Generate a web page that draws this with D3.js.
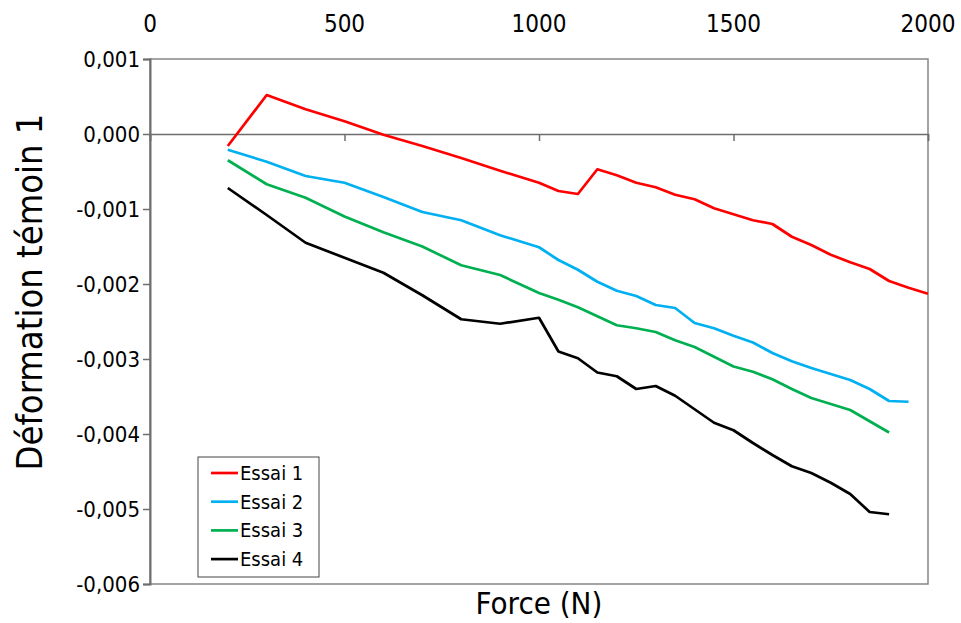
<!DOCTYPE html>
<html><head><meta charset="utf-8">
<script src="https://cdn.jsdelivr.net/npm/d3@7"></script>
<style>
body{margin:0;background:#fff;}
svg text{font-family:"DejaVu Sans Condensed","DejaVu Sans",sans-serif;fill:#000;}
</style></head><body>
<svg id="c" width="961" height="623"></svg>
<script>
const forces = [200,300,400,500,600,700,800,900,1000,1050,1100,1150,1200,1250,1300,1350,1400,1450,1500,1550,1600,1650,1700,1750,1800,1850,1900,1950,2000];
const essai1 = [-0.00016,0.00052,0.00033,0.00017,-0.00001,-0.00016,-0.00032,-0.00049,-0.00065,-0.00076,-0.00080,-0.00047,-0.00055,-0.00065,-0.00071,-0.00081,-0.00087,-0.00099,-0.00107,-0.00115,-0.00120,-0.00137,-0.00148,-0.00161,-0.00171,-0.00180,-0.00196,-0.00205,-0.00213];
const essai2 = [-0.00021,-0.00037,-0.00056,-0.00065,-0.00084,-0.00104,-0.00115,-0.00135,-0.00151,-0.00168,-0.00181,-0.00197,-0.00209,-0.00216,-0.00228,-0.00232,-0.00252,-0.00259,-0.00269,-0.00278,-0.00292,-0.00303,-0.00312,-0.00320,-0.00328,-0.00340,-0.00356,-0.00357,null];
const essai3 = [-0.00035,-0.00067,-0.00085,-0.00110,-0.00131,-0.00150,-0.00175,-0.00188,-0.00212,-0.00221,-0.00231,-0.00243,-0.00255,-0.00259,-0.00264,-0.00275,-0.00284,-0.00297,-0.00310,-0.00317,-0.00327,-0.00340,-0.00352,-0.00360,-0.00368,-0.00383,-0.00398,null,null];
const essai4 = [-0.00072,-0.00108,-0.00145,-0.00165,-0.00185,-0.00215,-0.00247,-0.00253,-0.00245,-0.00290,-0.00299,-0.00318,-0.00323,-0.00340,-0.00336,-0.00349,-0.00367,-0.00385,-0.00395,-0.00412,-0.00428,-0.00443,-0.00452,-0.00465,-0.00480,-0.00504,-0.00507,null,null];
const seriesNames = ["Essai 1","Essai 2","Essai 3","Essai 4"];
const seriesColors = ["#ff0000","#00b0f0","#00b050","#000000"];
const xTicks = [0,500,1000,1500,2000];
const yTicks = [0.001,0,-0.001,-0.002,-0.003,-0.004,-0.005,-0.006];

const svg = d3.select("#c");
const L=150,R=928,T=59,B=584;
const x = d3.scaleLinear().domain([0,2000]).range([L,R]);
const y = d3.scaleLinear().domain([-0.006,0.001]).range([B,T]);
const fmt = v => (v<0?"-":"") + Math.abs(v).toFixed(3).replace(".",",");

// frame
svg.append("rect").attr("x",L).attr("y",T).attr("width",R-L).attr("height",B-T)
  .attr("fill","none").attr("stroke","#868686").attr("stroke-width",1.5);

// y axis
const yAx = svg.append("g").attr("transform",`translate(${L},0)`)
  .call(d3.axisLeft(y).tickValues(yTicks).tickFormat(fmt).tickSize(7).tickPadding(3));
yAx.select(".domain").attr("stroke","#6e6e6e").attr("stroke-width",2);
yAx.selectAll(".tick line").attr("stroke","#6e6e6e").attr("stroke-width",1.5);
yAx.selectAll("text").attr("font-size",22).attr("font-family",null);

// x axis at y=0, labels at top
const xAx = svg.append("g").attr("transform",`translate(0,${y(0)})`)
  .call(d3.axisBottom(x).tickValues(xTicks).tickSize(7).tickFormat(""));
xAx.select(".domain").attr("stroke","#6e6e6e").attr("stroke-width",1.5);
xAx.selectAll(".tick line").attr("stroke","#6e6e6e").attr("stroke-width",1.5);
svg.append("g").selectAll("text").data(xTicks).join("text")
  .attr("x",d=>x(d)).attr("y",32).attr("text-anchor","middle").attr("font-size",24).text(d=>d);

// lines
const allSeries=[essai1,essai2,essai3,essai4];
const line = d3.line().defined(d=>d[1]!==null).x(d=>x(d[0])).y(d=>y(d[1]));
allSeries.forEach((s,i)=>{
  svg.append("path").datum(forces.map((f,j)=>[f,s[j]]))
    .attr("fill","none").attr("stroke",seriesColors[i]).attr("stroke-width",2.7)
    .attr("stroke-linejoin","round").attr("d",line);
});

// axis titles
svg.append("text").attr("transform","translate(42,292) rotate(-90)").attr("text-anchor","middle")
  .attr("font-size",36).text("Déformation témoin 1");
svg.append("text").attr("x",539).attr("y",614).attr("text-anchor","middle")
  .attr("font-size",31).text("Force (N)");

// legend
const lg = svg.append("g");
lg.append("rect").attr("x",198).attr("y",457).attr("width",121).attr("height",120)
  .attr("fill","#fff").attr("stroke","#444").attr("stroke-width",1);
seriesNames.forEach((n,i)=>{
  const yy=473+i*28.7;
  lg.append("line").attr("x1",211).attr("x2",238).attr("y1",yy).attr("y2",yy)
    .attr("stroke",seriesColors[i]).attr("stroke-width",2.7);
  lg.append("text").attr("x",240).attr("y",yy+7).attr("font-size",20).text(n);
});
</script></body></html>
